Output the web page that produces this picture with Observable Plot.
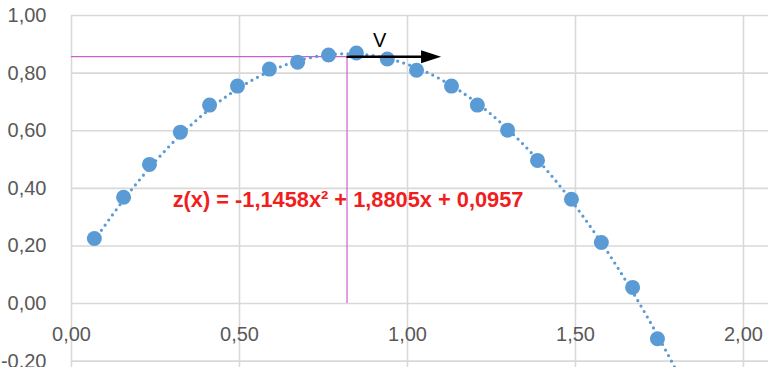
<!DOCTYPE html>
<html><head><meta charset="utf-8">
<script src="https://cdn.jsdelivr.net/npm/d3@7"></script>
<script src="https://cdn.jsdelivr.net/npm/@observablehq/plot@0.6"></script>
<style>body{margin:0;background:#fff;overflow:hidden;}</style>
</head><body><div id="chart"></div>
<script>
const xValues = [0.068, 0.155, 0.232, 0.324, 0.411, 0.494, 0.589, 0.673, 0.765, 0.848, 0.940, 1.027, 1.131, 1.208, 1.298, 1.387, 1.488, 1.577, 1.670, 1.744];
const yValues = [0.226, 0.369, 0.483, 0.595, 0.689, 0.755, 0.814, 0.838, 0.863, 0.870, 0.849, 0.810, 0.755, 0.689, 0.602, 0.497, 0.362, 0.212, 0.056, -0.122];
const xTicks = [0, 0.5, 1.0, 1.5, 2.0];
const yTicks = [-0.2, 0, 0.2, 0.4, 0.6, 0.8, 1.0];
const trendCoefficients = [-1.1458, 1.8805, 0.0957];
const trendStart = 0.068, trendEnd = 1.80;
const vertexX = 0.82, vertexY = 0.857;
const arrowEndX = 1.10;
const arrowLabel = "V";
const equationLabel = "z(x) = -1,1458x² + 1,8805x + 0,0957";
const equationX = 0.301, equationY = 0.358;
const arrowLabelX = 0.917, arrowLabelY = 0.913;

const fmt = d => d.toFixed(2).replace(".", ",");
const points = xValues.map((x, i) => ({x, y: yValues[i]}));
const trend = d3.range(trendStart, trendEnd, 0.004).map(x => ({x, y: trendCoefficients[0]*x*x + trendCoefficients[1]*x + trendCoefficients[2]}));

const arrowHead = {draw(ctx) { ctx.moveTo(0, 0); ctx.lineTo(-20, -6.5); ctx.lineTo(-20, 6.5); ctx.closePath(); }};

const gridColor = "#d9d9d9";
const chart = Plot.plot({
  width: 768, height: 367,
  marginLeft: 71, marginRight: 0, marginTop: 15, marginBottom: 0,
  x: {domain: [0, 2.0745], axis: null},
  y: {domain: [-0.222, 1.0], axis: null},
  style: {fontFamily: "'Liberation Sans', Arial, sans-serif", background: "white", overflow: "hidden"},
  marks: [
    Plot.ruleY(yTicks, {stroke: gridColor, strokeWidth: 1.6}),
    Plot.ruleX(xTicks, {stroke: gridColor, strokeWidth: 1.6}),
    Plot.ruleY([vertexY], {x1: 0, x2: vertexX, stroke: "#cc5fcc", strokeWidth: 1.2}),
    Plot.ruleX([vertexX], {y1: 0, y2: vertexY, stroke: "#cc5fcc", strokeWidth: 1.2}),
    Plot.line(trend, {x: "x", y: "y", stroke: "#5b9bd5", strokeWidth: 3.2, strokeDasharray: "0 6.3", strokeLinecap: "round"}),
    Plot.dot(points, {x: "x", y: "y", r: 7.5, fill: "#5b9bd5"}),
    Plot.ruleY([vertexY], {x1: vertexX, x2: arrowEndX - 0.03, stroke: "black", strokeWidth: 2.5}),
    Plot.dot([arrowEndX], {x: d => d, y: () => vertexY, symbol: arrowHead, fill: "black", stroke: "none", r: 5}),
    Plot.text([arrowLabel], {x: () => arrowLabelX, y: () => arrowLabelY, text: d => d, fontSize: 20, fill: "#000"}),
    Plot.text(yTicks, {x: () => 0, y: d => d, text: fmt, dx: -25, textAnchor: "end", fontSize: 20, fill: "#595959"}),
    Plot.text(xTicks, {x: d => d, y: () => 0, text: fmt, dy: 31, textAnchor: "middle", fontSize: 20, fill: "#595959"}),
    Plot.text([equationLabel], {x: () => equationX, y: () => equationY, text: d => d, textAnchor: "start", fontSize: 21.8, fontWeight: "bold", fill: "#f01e1e"})
  ]
});
document.getElementById("chart").append(chart);
</script>
</body></html>
